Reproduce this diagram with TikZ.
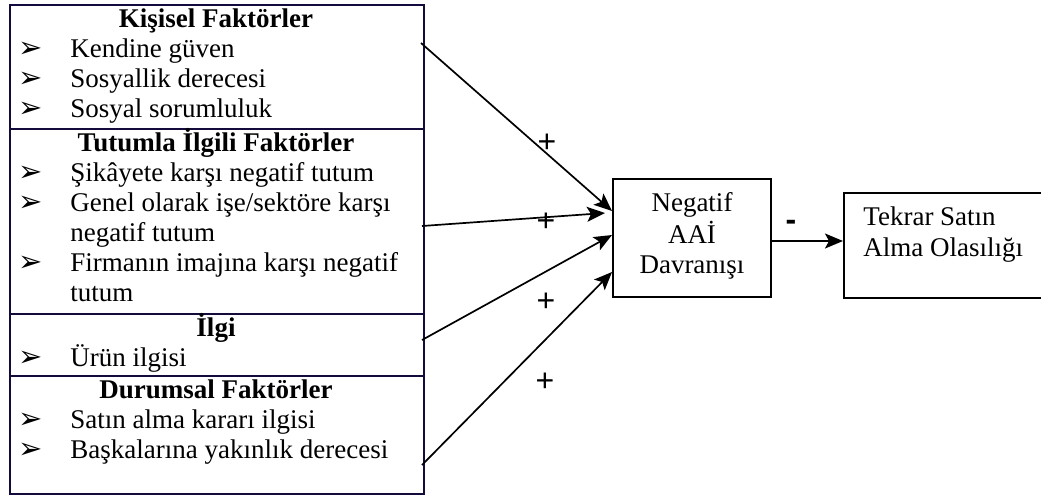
\documentclass[tikz,border=0pt]{standalone}
\usepackage{fontspec}
\setmainfont{Liberation Serif}
\newfontfamily\dejavu{DejaVu Sans}
\newfontfamily\arialf{Liberation Sans}
\usetikzlibrary{arrows.meta}
\definecolor{navyb}{RGB}{20,10,60}
\tikzset{
  cellbox/.style={draw=navyb, line width=1pt, anchor=north west, minimum width=207pt, inner sep=0pt},
  headtxt/.style={anchor=base, inner sep=0pt, font=\fontsize{13.5}{15}\selectfont\bfseries},
  itemtxt/.style={anchor=base west, inner sep=0pt, font=\fontsize{13.5}{15}\selectfont},
  bul/.style={anchor=base, inner sep=0pt, font=\fontsize{14.5}{16}\dejavu},
  boxtxt/.style={inner sep=0pt, font=\fontsize{13.5}{15}\selectfont},
  sign/.style={inner sep=0pt, font=\fontsize{16}{18}\arialf},
  conn/.style={line width=0.85pt, -{Stealth[length=9pt, width=7.5pt, inset=2pt]}},
}
\begin{document}
\begin{tikzpicture}[x=0.5pt, y=-0.5pt]
\useasboundingbox (0,0) rectangle (1041,495);
% left cells
\node[cellbox, minimum height=62pt] (cell1) at (9,4) {};
\node[cellbox, minimum height=92.5pt] (cell2) at (9,128) {};
\node[cellbox, minimum height=31pt] (cell3) at (9,313) {};
\node[cellbox, minimum height=59pt] (cell4) at (9,375) {};
% cell 1
\node[headtxt] (h1) at (216,27) {Kişisel Faktörler};
\node[bul] (b11) at (31,57) {➢};
\node[itemtxt] (t11) at (70,57) {Kendine güven};
\node[bul] (b12) at (31,87) {➢};
\node[itemtxt] (t12) at (70,87) {Sosyallik derecesi};
\node[bul] (b13) at (31,117) {➢};
\node[itemtxt] (t13) at (70,117) {Sosyal sorumluluk};
% cell 2
\node[headtxt] (h2) at (216,151) {Tutumla İlgili Faktörler};
\node[bul] (b21) at (31,181) {➢};
\node[itemtxt] (t21) at (70,181) {Şikâyete karşı negatif tutum};
\node[bul] (b22) at (31,211) {➢};
\node[itemtxt] (t22) at (70,211) {Genel olarak işe/sektöre karşı};
\node[itemtxt] (t23) at (70,241) {negatif tutum};
\node[bul] (b24) at (31,271) {➢};
\node[itemtxt] (t24) at (70,271) {Firmanın imajına karşı negatif};
\node[itemtxt] (t25) at (70,301) {tutum};
% cell 3
\node[headtxt] (h3) at (216,336) {İlgi};
\node[bul] (b31) at (31,366) {➢};
\node[itemtxt] (t31) at (70,366) {Ürün ilgisi};
% cell 4
\node[headtxt] (h4) at (216,398) {Durumsal Faktörler};
\node[bul] (b41) at (31,428) {➢};
\node[itemtxt] (t41) at (70,428) {Satın alma kararı ilgisi};
\node[bul] (b42) at (31,458) {➢};
\node[itemtxt] (t42) at (70,458) {Başkalarına yakınlık derecesi};
% middle box
\node[draw, line width=1pt, minimum width=79pt, minimum height=59pt, inner sep=0pt] (neg) at (692,238) {};
\node[boxtxt, anchor=base] (n1) at (692,211) {Negatif};
\node[boxtxt, anchor=base] (n2) at (692,243) {AAİ};
\node[boxtxt, anchor=base] (n3) at (692,273) {Davranışı};
% right box (runs past the right edge)
\node[draw, line width=1pt, minimum width=106pt, minimum height=52.5pt, inner sep=0pt, anchor=north west] (rep) at (843,192) {};
\node[boxtxt, anchor=base west] (r1) at (863,225) {Tekrar Satın};
\node[boxtxt, anchor=base west] (r2) at (863,256) {Alma Olasılığı};
% connector endpoints
\coordinate (a1) at (421,43);
\coordinate (a2) at (422,226);
\coordinate (a3) at (422,340);
\coordinate (a4) at (422,465);
\coordinate (e1) at (612,211);
\coordinate (e2) at (605,213);
\coordinate (e3) at (612,235);
\coordinate (e4) at (612,272);
\draw[conn] (a1) -- (e1);
\draw[conn] (a2) -- (e2);
\draw[conn] (a3) -- (e3);
\draw[conn] (a4) -- (e4);
\coordinate (c1) at (771,241);
\draw[conn] (c1) -- (c1 -| rep.west);
% signs
\node[sign] (p1) at (547,143) {+};
\node[sign] (p2) at (546,222) {+};
\node[sign] (p3) at (546,302) {+};
\node[sign] (p4) at (545,382) {+};
\node[sign, font=\fontsize{16}{18}\arialf\bfseries] (m1) at (791,225) {-};
\end{tikzpicture}
\end{document}
